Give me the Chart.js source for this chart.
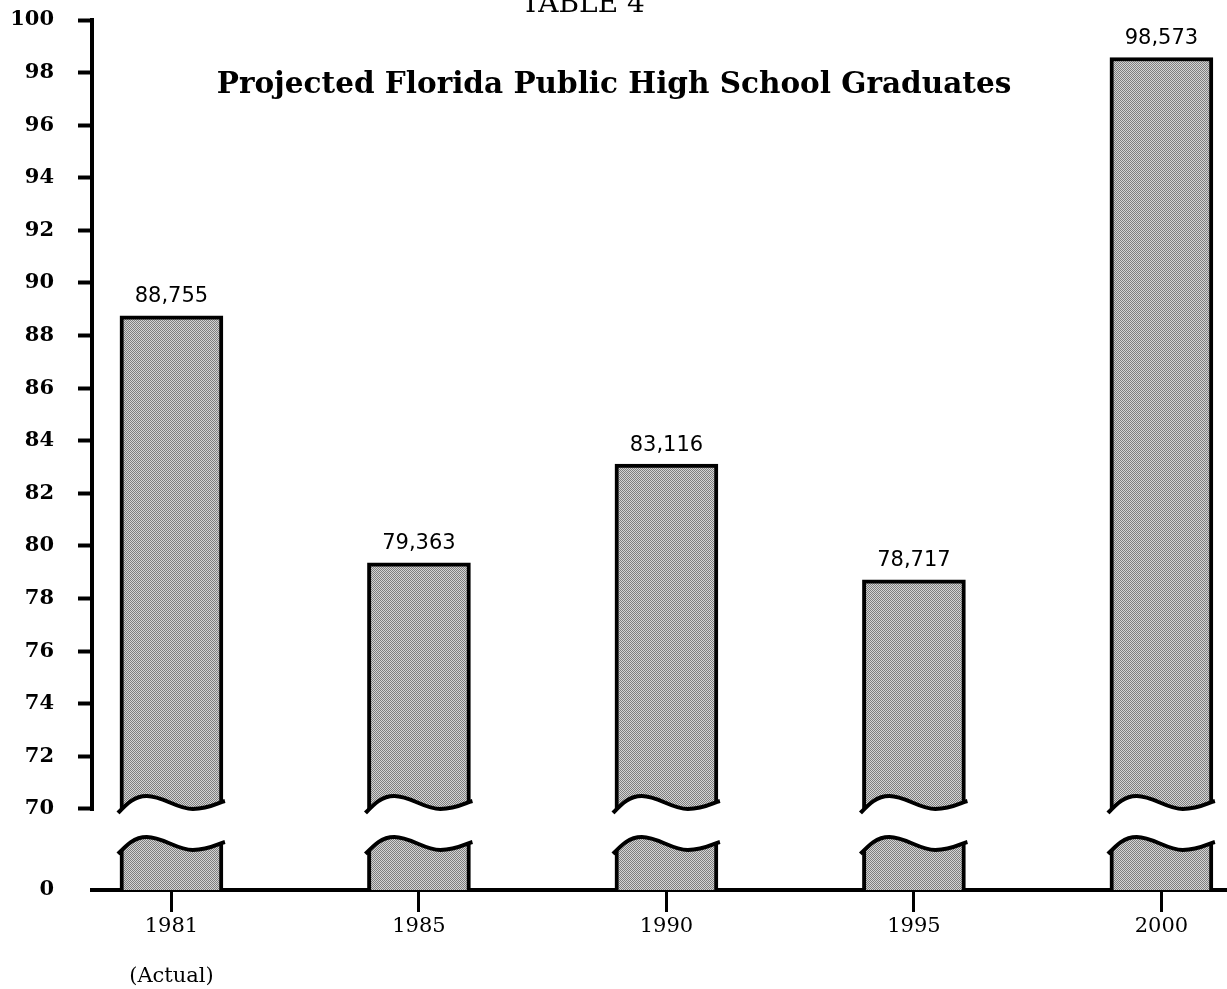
<!DOCTYPE html>
<html>
<head>
<meta charset="utf-8">
<script src="https://cdn.jsdelivr.net/npm/chart.js@4/dist/chart.umd.min.js"></script>
<style>
  html, body { margin: 0; padding: 0; background: #fff; overflow: hidden; }
</style>
</head>
<body>
<canvas id="chart" width="1227" height="989"></canvas>
<script>
// Values (graduates, plotted in thousands)
const years = ['1981', '1985', '1990', '1995', '2000'];
const yearNotes = ['(Actual)', '', '', '', ''];
const graduates = [88755, 79363, 83116, 78717, 98573];
const yTicks = [70, 72, 74, 76, 78, 80, 82, 84, 86, 88, 90, 92, 94, 96, 98, 100];
const zeroLevel = 66.92; // where the broken axis puts its "0" line

const ctx = document.getElementById('chart').getContext('2d');

// stippled grey fill like the photocopy
const tile = document.createElement('canvas');
tile.width = 2; tile.height = 2;
const tctx = tile.getContext('2d');
tctx.fillStyle = '#d4d4d4';
tctx.fillRect(0, 0, 2, 2);
tctx.fillStyle = '#7e7e7e';
tctx.fillRect(0, 0, 1, 1);
tctx.fillRect(1, 1, 1, 1);
const stipple = ctx.createPattern(tile, 'repeat');

function wavePath(left, w, yc, reverse) {
    // one wavy cut line across a bar
    const pts = [
        [0, 9], [0.08, 0], [0.15, -8], [0.27, -8],
        [0.42, -8], [0.55, 5], [0.7, 5],
        [0.85, 5], [0.93, -1], [1, -3]
    ].map(p => [left + p[0] * w, yc + p[1]]);
    if (reverse) pts.reverse();
    return pts;
}

function traceCurve(c, p) {
    for (let k = 1; k < p.length; k += 3) {
        c.bezierCurveTo(p[k][0], p[k][1], p[k + 1][0], p[k + 1][1], p[k + 2][0], p[k + 2][1]);
    }
}

const breakAndLabels = {
    id: 'breakAndLabels',
    afterDatasetsDraw(chart) {
        const c = chart.ctx;
        const y = chart.scales.y;
        const meta = chart.getDatasetMeta(0);
        const upper = y.getPixelForValue(70) - 5;
        const lower = y.getPixelForValue(70) + 36;
        c.save();
        meta.data.forEach((bar, i) => {
            const left = bar.x - bar.width / 2 - 2;
            const w = bar.width + 4;
            const top = wavePath(left, w, upper, false);
            const bot = wavePath(left, w, lower, true);
            // white gap
            c.beginPath();
            c.moveTo(top[0][0] - 3, top[0][1]);
            traceCurve(c, top);
            c.lineTo(top[top.length - 1][0] + 3, top[top.length - 1][1]);
            c.lineTo(bot[0][0] + 3, bot[0][1]);
            traceCurve(c, bot);
            c.lineTo(bot[bot.length - 1][0] - 3, bot[bot.length - 1][1]);
            c.closePath();
            c.fillStyle = '#fff';
            c.fill();
            // black cut edges
            [top, bot].forEach(p => {
                c.beginPath();
                c.moveTo(p[0][0], p[0][1]);
                traceCurve(c, p);
                c.lineWidth = 4;
                c.strokeStyle = '#000';
                c.stroke();
            });
            // value label
            c.fillStyle = '#000';
            c.font = '21px "DejaVu Sans"';
            c.textAlign = 'center';
            c.textBaseline = 'middle';
            c.fillText(graduates[i].toLocaleString('en-US'), bar.x, bar.y - 19);
        });
        c.restore();
    },
    afterDraw(chart) {
        const c = chart.ctx;
        const y = chart.scales.y;
        const a = chart.chartArea;
        c.save();
        // vertical axis only from 70 up to 100
        c.strokeStyle = '#000';
        c.lineWidth = 4;
        c.beginPath();
        c.moveTo(a.left, y.getPixelForValue(100) - 2);
        c.lineTo(a.left, y.getPixelForValue(70) + 2);
        c.stroke();
        // headings
        c.fillStyle = '#000';
        c.textAlign = 'center';
        c.textBaseline = 'alphabetic';
        c.font = '28px "DejaVu Serif"';
        c.fillText('TABLE 4', 583, 12);
        c.font = 'bold 29.5px "DejaVu Serif"';
        c.textBaseline = 'middle';
        c.fillText('Projected Florida Public High School Graduates', 614, 85);
        c.restore();
    }
};

new Chart(ctx, {
    type: 'bar',
    data: {
        datasets: [{
            data: graduates.map((g, i) => ({ x: i, y: g / 1000 })),
            backgroundColor: stipple,
            borderColor: '#000',
            borderWidth: 4,
            borderSkipped: false,
            barThickness: 103
        }]
    },
    options: {
        responsive: false,
        animation: false,
        layout: { padding: { top: 20, right: 0, left: 0, bottom: 0 } },
        plugins: {
            legend: { display: false },
            tooltip: { enabled: false }
        },
        scales: {
            x: {
                type: 'linear',
                offset: false,
                min: -0.321,
                max: 4.265,
                afterBuildTicks: s => { s.ticks = years.map((_, i) => ({ value: i })); },
                afterFit: s => { s.height = 99; },
                ticks: {
                    autoSkip: false,
                    maxRotation: 0,
                    padding: 2,
                    color: '#000',
                    font: { family: 'DejaVu Serif', size: 21, lineHeight: '25px' },
                    callback: (v, i) => yearNotes[i] ? [years[i], '', yearNotes[i]] : years[i]
                },
                grid: { offset: false, drawOnChartArea: false, tickLength: 22, tickWidth: 3, color: '#000' },
                border: { color: '#000', width: 4 }
            },
            y: {
                type: 'linear',
                min: zeroLevel,
                max: 100,
                afterBuildTicks: s => {
                    s.ticks = [{ value: zeroLevel }].concat(yTicks.map(v => ({ value: v })));
                },
                afterFit: s => { s.width = 92; s.paddingTop = 0; s.paddingBottom = 0; },
                ticks: {
                    padding: 24,
                    color: '#000',
                    font: { family: 'DejaVu Serif', size: 21, weight: 'bold' },
                    callback: v => v < 70 ? '0' : String(v)
                },
                grid: {
                    drawOnChartArea: false,
                    tickLength: 14,
                    tickWidth: 4,
                    tickColor: c => (c.tick && c.tick.value < 70) ? 'rgba(0,0,0,0)' : '#000'
                },
                border: { display: false }
            }
        }
    },
    plugins: [breakAndLabels]
});
</script>
</body>
</html>
